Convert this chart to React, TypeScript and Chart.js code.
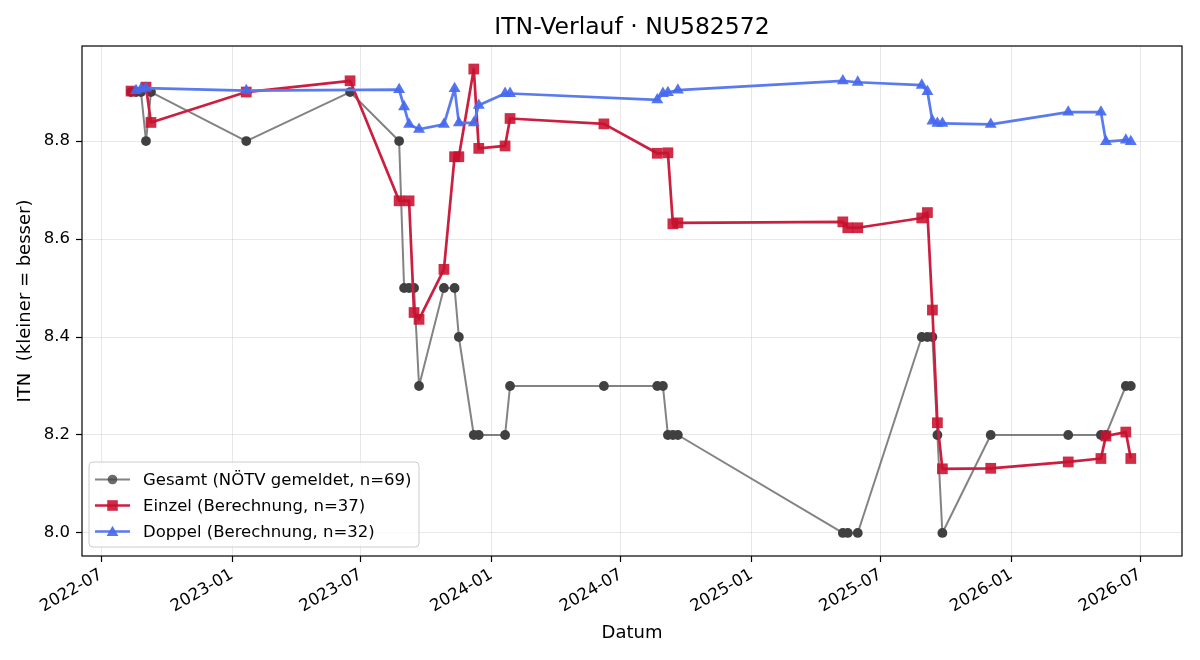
import React, { useEffect, useRef } from 'react';
import { Chart, registerables } from 'chart.js';

Chart.register(...registerables);

const TITLE = 'ITN-Verlauf · NU582572';
const X_TITLE = 'Datum';
const Y_TITLE = 'ITN  (kleiner = besser)';

const gesamtLabel = 'Gesamt (NÖTV gemeldet, n=69)';
const einzelLabel = 'Einzel (Berechnung, n=37)';
const doppelLabel = 'Doppel (Berechnung, n=32)';

const gesamtDates = [
  '2022-08-12', '2022-08-19', '2022-08-26', '2022-09-02', '2022-09-09', '2023-01-21', '2023-06-16',
  '2023-08-24', '2023-08-31', '2023-09-07', '2023-09-14', '2023-09-21', '2023-10-26', '2023-11-10',
  '2023-11-16', '2023-12-07', '2023-12-14', '2024-01-20', '2024-01-27', '2024-06-07', '2024-08-21',
  '2024-08-29', '2024-09-05', '2024-09-12', '2024-09-19', '2025-05-09', '2025-05-16', '2025-05-30',
  '2025-08-28', '2025-09-05', '2025-09-12', '2025-09-19', '2025-09-26', '2025-12-03', '2026-03-22',
  '2026-05-07', '2026-05-14', '2026-06-11', '2026-06-18',
];
const gesamtValues = [
  8.9, 8.9, 8.9, 8.8, 8.9, 8.8, 8.9,
  8.8, 8.5, 8.5, 8.5, 8.3, 8.5, 8.5,
  8.4, 8.2, 8.2, 8.2, 8.3, 8.3, 8.3,
  8.3, 8.2, 8.2, 8.2, 8.0, 8.0, 8.0,
  8.4, 8.4, 8.4, 8.2, 8.0, 8.2, 8.2,
  8.2, 8.2, 8.3, 8.3,
];

const einzelDates = [
  '2022-08-12', '2022-09-02', '2022-09-09', '2023-01-21', '2023-06-16', '2023-08-24', '2023-09-07',
  '2023-09-14', '2023-09-21', '2023-10-26', '2023-11-10', '2023-11-16', '2023-12-07', '2023-12-14',
  '2024-01-20', '2024-01-27', '2024-06-07', '2024-08-21', '2024-09-05', '2024-09-12', '2024-09-19',
  '2025-05-09', '2025-05-16', '2025-05-30', '2025-08-28', '2025-09-05', '2025-09-12', '2025-09-19',
  '2025-09-26', '2025-12-03', '2026-03-22', '2026-05-07', '2026-05-14', '2026-06-11', '2026-06-18',
];
const einzelValues = [
  8.902, 8.91, 8.838, 8.90, 8.923, 8.678, 8.678,
  8.45, 8.436, 8.538, 8.768, 8.768, 8.947, 8.785,
  8.79, 8.846, 8.835, 8.775, 8.776, 8.631, 8.633,
  8.635, 8.623, 8.623, 8.643, 8.654, 8.455, 8.225,
  8.131, 8.132, 8.145, 8.152, 8.198, 8.206, 8.152,
];

const doppelDates = [
  '2022-08-19', '2022-08-26', '2022-09-02', '2023-01-21', '2023-08-24', '2023-08-31', '2023-09-07',
  '2023-09-21', '2023-10-26', '2023-11-10', '2023-11-16', '2023-12-07', '2023-12-14', '2024-01-20',
  '2024-01-27', '2024-08-21', '2024-08-29', '2024-09-05', '2024-09-19', '2025-05-09', '2025-05-30',
  '2025-08-28', '2025-09-05', '2025-09-12', '2025-09-19', '2025-09-26', '2025-12-03', '2026-03-22',
  '2026-05-07', '2026-05-14', '2026-06-11', '2026-06-18',
];
const doppelValues = [
  8.903, 8.906, 8.908, 8.903, 8.905, 8.87, 8.834,
  8.824, 8.834, 8.907, 8.837, 8.837, 8.873, 8.897,
  8.897, 8.884, 8.897, 8.899, 8.904, 8.923, 8.92,
  8.914, 8.901, 8.841, 8.836, 8.836, 8.834, 8.859,
  8.859, 8.799, 8.802, 8.799,
];

const xTickDates = [
  '2022-07-01', '2023-01-01', '2023-07-01', '2024-01-01', '2024-07-01',
  '2025-01-01', '2025-07-01', '2026-01-01', '2026-07-01',
];
const yTickValues = [8.0, 8.2, 8.4, 8.6, 8.8];

const X_MIN = '2022-06-04';
const X_MAX = '2026-08-29';
const Y_MIN = 7.953;
const Y_MAX = 8.994;

const FONT = '"DejaVu Sans", sans-serif';

const GRAY_LINE = 'rgba(90,90,90,0.75)';
const GRAY_MARK = '#404040';
const RED_LINE = '#cc1f40';
const RED_MARK = 'rgba(200,16,46,0.88)';
const BLUE_LINE = '#5a7af0';
const BLUE_MARK = 'rgba(70,105,238,0.92)';

const toMs = (d: string) => Date.parse(d + 'T00:00:00Z');
const pts = (dates: string[], vals: number[]) => dates.map((d, i) => ({ x: toMs(d), y: vals[i] }));

function drawMarker(ctx: CanvasRenderingContext2D, kind: string, x: number, y: number, r: number) {
  ctx.beginPath();
  if (kind === 'circle') {
    ctx.arc(x, y, r, 0, Math.PI * 2);
  } else if (kind === 'rect') {
    const s = r * Math.SQRT1_2;
    ctx.rect(x - s, y - s, 2 * s, 2 * s);
  } else {
    for (let k = 0; k < 3; k++) {
      const a = (k * 2 * Math.PI) / 3;
      const px = x + Math.sin(a) * r;
      const py = y - Math.cos(a) * r;
      if (k === 0) ctx.moveTo(px, py);
      else ctx.lineTo(px, py);
    }
    ctx.closePath();
  }
  ctx.fill();
}

const decorPlugin = {
  id: 'decor',
  afterDraw(chart: any) {
    const { ctx, chartArea: a } = chart;
    ctx.save();
    ctx.strokeStyle = '#000';
    ctx.lineWidth = 1.2;
    ctx.strokeRect(a.left, a.top, a.right - a.left, a.bottom - a.top);

    ctx.fillStyle = '#000';
    ctx.textAlign = 'center';
    ctx.textBaseline = 'middle';
    ctx.font = `23.5px ${FONT}`;
    ctx.fillText(TITLE, (a.left + a.right) / 2, 28);
    ctx.font = `18px ${FONT}`;
    ctx.fillText(X_TITLE, (a.left + a.right) / 2, 633);
    ctx.save();
    ctx.translate(25, (a.top + a.bottom) / 2);
    ctx.rotate(-Math.PI / 2);
    ctx.fillText(Y_TITLE, 0, 0);
    ctx.restore();

    // legend
    const bx = 89, by = 462, bw = 330, bh = 85;
    ctx.beginPath();
    ctx.roundRect(bx, by, bw, bh, 4);
    ctx.fillStyle = 'rgba(255,255,255,0.8)';
    ctx.fill();
    ctx.strokeStyle = '#cccccc';
    ctx.lineWidth = 1;
    ctx.stroke();

    const rows = [
      { label: gesamtLabel, line: GRAY_LINE, mark: 'rgba(70,70,70,0.8)', kind: 'circle', r: 4.8, lw: 2, y: 479.5 },
      { label: einzelLabel, line: RED_LINE, mark: RED_MARK, kind: 'rect', r: 7.5, lw: 2.6, y: 505.5 },
      { label: doppelLabel, line: BLUE_LINE, mark: BLUE_MARK, kind: 'triangle', r: 6.8, lw: 2.6, y: 531.5 },
    ];
    ctx.font = `16.5px ${FONT}`;
    ctx.textAlign = 'left';
    ctx.textBaseline = 'middle';
    for (const row of rows) {
      ctx.beginPath();
      ctx.moveTo(95, row.y);
      ctx.lineTo(130, row.y);
      ctx.strokeStyle = row.line;
      ctx.lineWidth = row.lw;
      ctx.stroke();
      ctx.fillStyle = row.mark;
      drawMarker(ctx, row.kind, 112.5, row.kind === 'triangle' ? row.y + 1 : row.y, row.r);
      ctx.fillStyle = '#000';
      ctx.fillText(row.label, 143, row.y + 1);
    }
    ctx.restore();
  },
};

export default function App() {
  const ref = useRef<HTMLCanvasElement | null>(null);

  useEffect(() => {
    document.body.style.margin = '0';
    const canvas = ref.current;
    if (!canvas) return;
    const chart = new Chart(canvas, {
      type: 'line',
      data: {
        datasets: [
          {
            label: gesamtLabel,
            data: pts(gesamtDates, gesamtValues),
            borderColor: GRAY_LINE,
            borderWidth: 2,
            borderJoinStyle: 'round',
            pointStyle: 'circle',
            pointRadius: 4.9,
            pointBackgroundColor: GRAY_MARK,
            pointBorderColor: GRAY_MARK,
            pointBorderWidth: 0,
            order: 3,
          },
          {
            label: einzelLabel,
            data: pts(einzelDates, einzelValues),
            borderColor: RED_LINE,
            borderWidth: 2.7,
            borderJoinStyle: 'round',
            pointStyle: 'rect',
            pointRadius: 7.6,
            pointBackgroundColor: RED_MARK,
            pointBorderColor: RED_MARK,
            pointBorderWidth: 0,
            order: 2,
          },
          {
            label: doppelLabel,
            data: pts(doppelDates, doppelValues),
            borderColor: BLUE_LINE,
            borderWidth: 2.7,
            borderJoinStyle: 'round',
            pointStyle: 'triangle',
            pointRadius: 6.9,
            pointBackgroundColor: BLUE_MARK,
            pointBorderColor: BLUE_MARK,
            pointBorderWidth: 0,
            order: 1,
          },
        ],
      },
      options: {
        animation: false,
        responsive: false,
        devicePixelRatio: 1,
        layout: { padding: { top: 46, right: 18, bottom: 0, left: 0 } },
        plugins: {
          legend: { display: false },
          tooltip: { enabled: false },
          title: { display: false },
        },
        scales: {
          x: {
            type: 'linear',
            min: toMs(X_MIN),
            max: toMs(X_MAX),
            afterBuildTicks: (scale: any) => {
              scale.ticks = xTickDates.map((d) => ({ value: toMs(d) }));
            },
            afterFit: (scale: any) => {
              scale.height = 104;
            },
            ticks: {
              minRotation: 30,
              maxRotation: 30,
              autoSkip: false,
              color: '#000',
              padding: 3,
              font: { family: FONT, size: 16.5 },
              callback: (v: any) => new Date(Number(v)).toISOString().slice(0, 7),
            },
            grid: {
              color: 'rgba(0,0,0,0.1)',
              lineWidth: 0.9,
              tickColor: '#000',
              tickLength: 6,
              tickWidth: 1.2,
            },
            border: { display: false },
          },
          y: {
            type: 'linear',
            min: Y_MIN,
            max: Y_MAX,
            afterBuildTicks: (scale: any) => {
              scale.ticks = yTickValues.map((v) => ({ value: v }));
            },
            afterFit: (scale: any) => {
              scale.width = 82;
            },
            ticks: {
              color: '#000',
              padding: 6,
              font: { family: FONT, size: 16.5 },
              callback: (v: any) => Number(v).toFixed(1),
            },
            grid: {
              color: 'rgba(0,0,0,0.1)',
              lineWidth: 0.9,
              tickColor: '#000',
              tickLength: 6,
              tickWidth: 1.2,
            },
            border: { display: false },
          },
        },
      },
      plugins: [decorPlugin],
    } as any);
    return () => chart.destroy();
  }, []);

  return (
    <div style={{ width: 1200, height: 660 }}>
      <canvas ref={ref} width={1200} height={660} style={{ display: 'block', width: 1200, height: 660 }} />
    </div>
  );
}
